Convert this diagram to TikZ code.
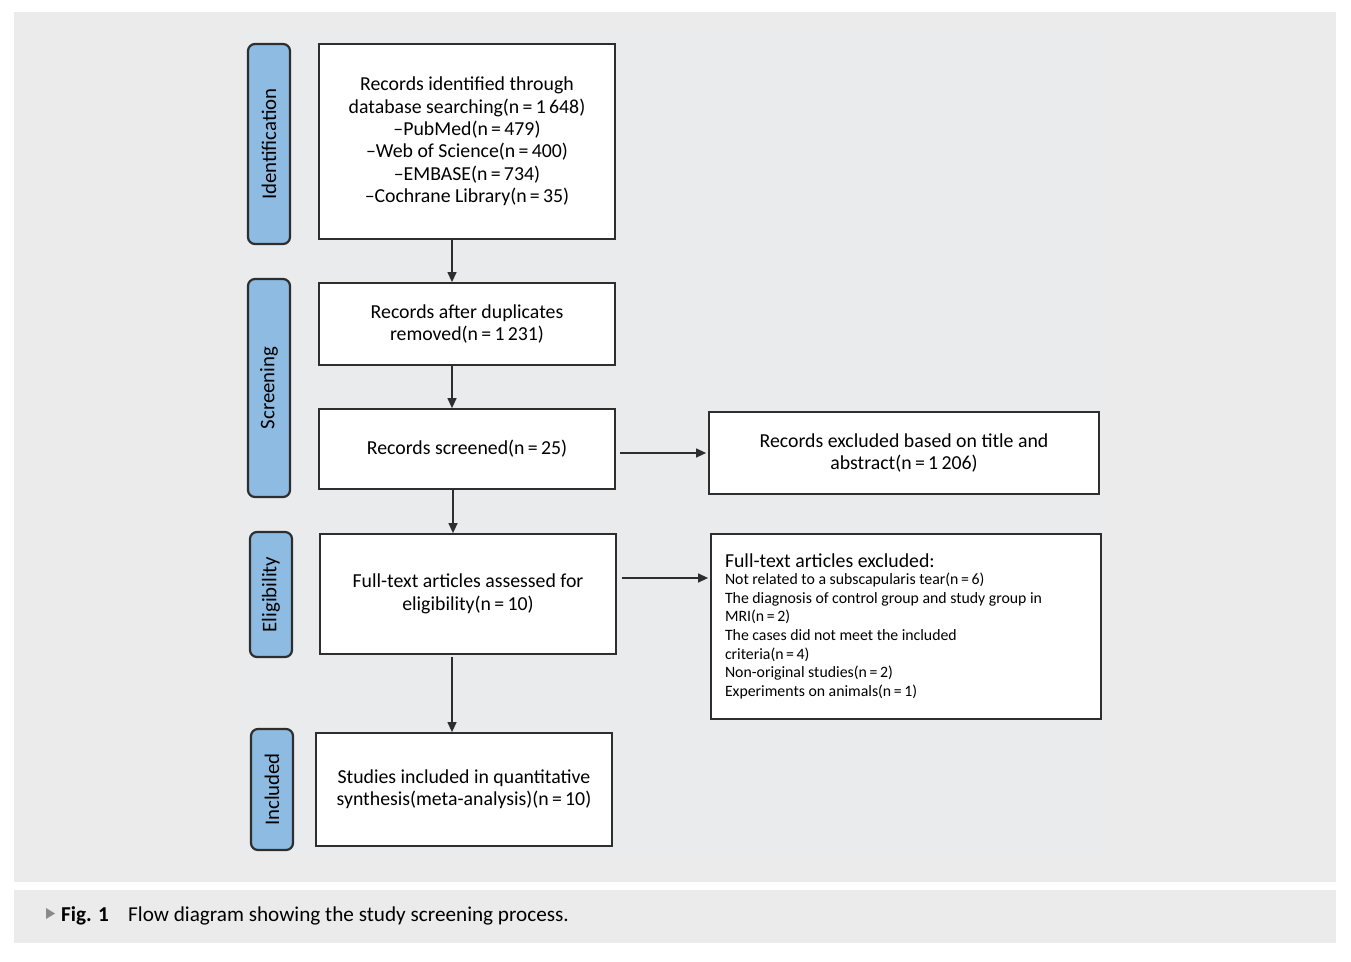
\documentclass[tikz,border=0pt]{standalone}
\usepackage{fontspec}
\setmainfont{Carlito}
\usetikzlibrary{arrows.meta, positioning}
\definecolor{panelgray}{HTML}{EBEBEB}
\definecolor{innergray}{HTML}{EAEBED}
\definecolor{phaseblue}{HTML}{8EBBE2}
\definecolor{edgegray}{HTML}{2E2E2E}
\definecolor{tipgray}{HTML}{8A8A8A}

\begin{document}
\begin{tikzpicture}[
        x=1pt, y=-1pt,
        box/.style={rectangle, draw=edgegray, line width=1.8pt, fill=white,
                    align=center, inner sep=0pt, minimum width=296pt,
                    font=\fontsize{19.8}{22.4}\selectfont},
        side/.style={rectangle, draw=edgegray, line width=1.8pt, fill=white,
                     inner sep=0pt, minimum width=390pt,
                     font=\fontsize{19.8}{22.8}\selectfont},
        phase/.style={rectangle, rounded corners=7pt, draw=edgegray, line width=2.2pt,
                      fill=phaseblue, minimum width=42pt, inner sep=0pt,
                      rotate=90, font=\fontsize{20.8}{22}\selectfont},
        arr/.style={-{Triangle[length=10pt,width=9pt]}, line width=1.3pt, draw=edgegray},
    ]
    \useasboundingbox (0,0) rectangle (1351,961);
    \fill[panelgray] (14,12) rectangle (1336,882);
    \fill[innergray] (243,30) rectangle (1103,852);
    \fill[panelgray] (14,890) rectangle (1336,943);

    % phase labels
    \node[phase, minimum height=42pt, minimum width=200pt] (idp)   at (269,144)   {Identification};
    \node[phase, minimum height=42pt, minimum width=218pt] (scrp)  at (269,388)   {Screening};
    \node[phase, minimum height=42pt, minimum width=125pt] (elgp)  at (271,594.5) {Eligibility};
    \node[phase, minimum height=42pt, minimum width=121pt] (incp)  at (272,789.5) {Included};

    % main column
    \node[box, minimum height=195pt] (ident) at (467,141.5) {Records identified through\\database searching(n\,=\,1\,648)\\--PubMed(n\,=\,479)\\--Web of Science(n\,=\,400)\\--EMBASE(n\,=\,734)\\--Cochrane Library(n\,=\,35)};
    \node[box, minimum height=82pt]  (dedup) at (467,324)   {Records after duplicates\\removed(n\,=\,1\,231)};
    \node[box, minimum height=80pt]  (scrn)  at (467,449)   {Records screened(n\,=\,25)};
    \node[box, minimum height=120pt] (elig)  at (468,594)   {Full-text articles assessed for\\eligibility(n\,=\,10)};
    \node[box, minimum height=113pt] (incl)  at (464,789.5) {Studies included in quantitative\\synthesis(meta-analysis)(n\,=\,10)};

    % excluded column
    \node[side, minimum height=82pt, align=center] (excl1) at (904,453) {Records excluded based on title and\\abstract(n\,=\,1\,206)};
    \node[side, minimum height=185pt, align=flush left, text width=362pt,
          font=\fontsize{15.8}{18.7}\selectfont] (excl2) at (906,626.5)
        {{\fontsize{19.8}{24}\selectfont Full-text articles excluded:}\\[-2pt]
         Not related to a subscapularis tear(n\,=\,6)\\
         The diagnosis of control group and study group in\\
         MRI(n\,=\,2)\\
         The cases did not meet the included\\
         criteria(n\,=\,4)\\
         Non-original studies(n\,=\,2)\\
         Experiments on animals(n\,=\,1)};

    \draw[arr] ([xshift=-15pt]ident.south) -- ([xshift=-15pt]ident.south |- dedup.north);
    \draw[arr] ([xshift=-15pt]dedup.south) -- ([xshift=-15pt]dedup.south |- scrn.north);
    \draw[arr] ([xshift=-14pt]scrn.south) -- ([xshift=-14pt]scrn.south |- elig.north);
    \draw[arr, shorten <=2pt] ([xshift=-16pt]elig.south) -- ([xshift=-16pt]elig.south |- incl.north);
    \draw[arr, shorten <=4pt, shorten >=2pt] (scrn.east |- excl1.west) -- (excl1.west);
    \draw[arr, shorten <=5pt, shorten >=2pt] ([yshift=16pt]elig.east) -- ([yshift=16pt]elig.east -| excl2.west);

    % caption
    \fill[tipgray] (46,908) -- (55,913.5) -- (46,919) -- cycle;
    \node[anchor=base west, inner sep=0pt, font=\fontsize{21.2}{24}\selectfont] (figno) at (61,921) {\textbf{Fig. 1}};
    \node[anchor=base west, inner sep=0pt, font=\fontsize{21.2}{24}\selectfont] (cap) at (128,921) {Flow diagram showing the study screening process.};
\end{tikzpicture}
\end{document}
